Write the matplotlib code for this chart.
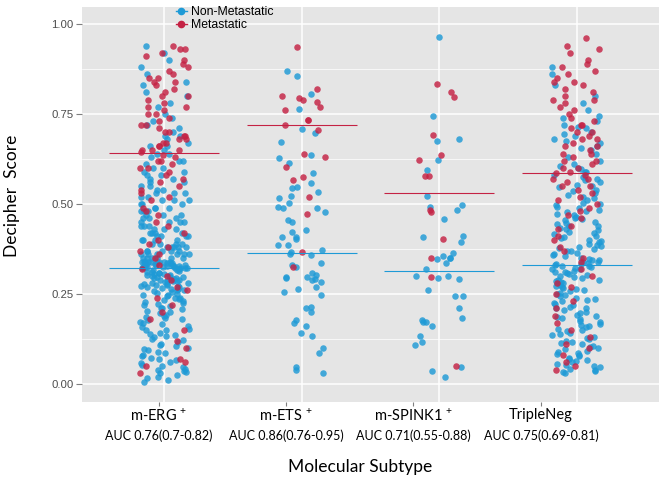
import numpy as np
import matplotlib
matplotlib.use('Agg')
import matplotlib.pyplot as plt
from matplotlib.lines import Line2D

plt.rcParams['mathtext.fontset'] = 'custom'
plt.rcParams['mathtext.rm'] = 'Lato'

subtypes = ['m-ERG', 'm-ETS', 'm-SPINK1', 'TripleNeg']
sup_marks = ['+', '+', '+', '']
auc_text = ['AUC 0.76(0.7-0.82)', 'AUC 0.86(0.76-0.95)',
            'AUC 0.71(0.55-0.88)', 'AUC 0.75(0.69-0.81)']

# median lines
met_median = [0.642, 0.718, 0.531, 0.587]
non_median = [0.321, 0.363, 0.314, 0.331]

# Decipher scores, read (roughly) off the jittered columns
erg_met = [0.94, 0.93, 0.93, 0.92, 0.91, 0.90, 0.89, 0.88, 0.87, 0.86, 0.85, 0.85,
           0.84, 0.84, 0.83, 0.82, 0.81, 0.80, 0.80, 0.79, 0.78, 0.77, 0.77, 0.76,
           0.75, 0.75, 0.74, 0.73, 0.72, 0.72, 0.71, 0.70, 0.70, 0.69, 0.69, 0.68,
           0.68, 0.67, 0.67, 0.66, 0.66, 0.65, 0.65, 0.65, 0.645,
           0.635, 0.63, 0.62, 0.62, 0.61, 0.60, 0.60, 0.59, 0.58, 0.57, 0.56, 0.55,
           0.54, 0.53, 0.52, 0.51, 0.49, 0.48, 0.47, 0.45, 0.44, 0.42, 0.40, 0.39,
           0.38, 0.37, 0.36, 0.35, 0.33, 0.32, 0.30, 0.29, 0.27, 0.26, 0.24, 0.22,
           0.20, 0.18, 0.15, 0.12, 0.10, 0.07, 0.06, 0.05, 0.03]
erg_non = [0.94, 0.92, 0.90, 0.88, 0.86, 0.84, 0.83, 0.81, 0.80, 0.78, 0.77, 0.75,
           0.74, 0.73, 0.72, 0.71, 0.70, 0.69, 0.69, 0.68, 0.67, 0.66, 0.66, 0.65,
           0.64, 0.64, 0.63, 0.62, 0.62, 0.61, 0.60, 0.60, 0.59, 0.59, 0.58, 0.58,
           0.57, 0.57, 0.56, 0.56, 0.55, 0.55, 0.54, 0.54, 0.53, 0.53, 0.53, 0.52,
           0.52, 0.51, 0.51, 0.51, 0.50, 0.50, 0.50, 0.49, 0.49, 0.49, 0.48, 0.48,
           0.48, 0.47, 0.47, 0.47, 0.46, 0.46, 0.46, 0.45, 0.45, 0.45, 0.45, 0.44,
           0.44, 0.44, 0.43, 0.43, 0.43, 0.42, 0.42, 0.42, 0.42, 0.41, 0.41, 0.41,
           0.41, 0.40, 0.40, 0.40, 0.40, 0.39, 0.39, 0.39, 0.39, 0.38, 0.38, 0.38,
           0.38, 0.38, 0.37, 0.37, 0.37, 0.37, 0.37, 0.36, 0.36, 0.36, 0.36, 0.36,
           0.36, 0.35, 0.35, 0.35, 0.35, 0.35, 0.35, 0.34, 0.34, 0.34, 0.34, 0.34,
           0.34, 0.34, 0.335, 0.333, 0.331, 0.336, 0.338, 0.332, 0.334, 0.339, 0.33,
           0.326, 0.324, 0.328, 0.321, 0.323, 0.327, 0.325, 0.322, 0.329, 0.324,
           0.326, 0.321, 0.328, 0.323,
           0.319, 0.317, 0.316, 0.313, 0.311, 0.31, 0.309, 0.306, 0.305, 0.303,
           0.301, 0.30, 0.298, 0.297, 0.295, 0.293, 0.29, 0.289, 0.287, 0.285,
           0.284, 0.281, 0.28, 0.278, 0.276, 0.274, 0.271, 0.27, 0.268, 0.265,
           0.263, 0.262, 0.26, 0.257, 0.255, 0.253, 0.25, 0.308, 0.302, 0.296,
           0.291, 0.286, 0.279, 0.273, 0.267,
           0.248, 0.246, 0.243, 0.24, 0.24, 0.237, 0.233, 0.231, 0.228, 0.224,
           0.221, 0.22, 0.216, 0.211, 0.21, 0.207, 0.203, 0.2, 0.196, 0.193, 0.19,
           0.185, 0.183, 0.18, 0.177, 0.171, 0.17, 0.166, 0.16, 0.157, 0.154, 0.15,
           0.149, 0.143, 0.14, 0.135, 0.132, 0.13, 0.124, 0.121, 0.118, 0.112,
           0.108, 0.105, 0.1, 0.097, 0.094, 0.09, 0.086, 0.08, 0.077, 0.072, 0.07,
           0.066, 0.06, 0.057, 0.052, 0.05, 0.046, 0.043, 0.04, 0.035, 0.032, 0.03,
           0.025, 0.02, 0.016, 0.01, 0.005]

ets_met = [0.937, 0.819, 0.80, 0.794, 0.79, 0.783, 0.769, 0.761, 0.733, 0.733,
           0.72, 0.706, 0.639, 0.631, 0.603, 0.575, 0.567, 0.52, 0.472, 0.367, 0.325]
ets_non = [0.870, 0.856, 0.806, 0.764, 0.707, 0.696, 0.673, 0.636, 0.629, 0.613,
           0.585, 0.559, 0.548, 0.544, 0.532, 0.523, 0.516, 0.502, 0.492, 0.488,
           0.488, 0.479, 0.455, 0.451, 0.428, 0.423, 0.409, 0.409, 0.402, 0.386,
           0.386, 0.372, 0.367, 0.361, 0.358, 0.335, 0.331, 0.326, 0.307, 0.303,
           0.298, 0.296, 0.293, 0.291, 0.289, 0.284, 0.270, 0.265, 0.256, 0.247,
           0.215, 0.210, 0.201, 0.178, 0.169, 0.160, 0.141, 0.132, 0.100, 0.085,
           0.048, 0.039, 0.030]

spink_met = [0.832, 0.812, 0.798, 0.691, 0.635, 0.622, 0.578, 0.578, 0.483,
             0.478, 0.403, 0.349, 0.298, 0.05]
spink_non = [0.965, 0.744, 0.68, 0.675, 0.622, 0.594, 0.522, 0.497, 0.491, 0.483,
             0.457, 0.412, 0.407, 0.395, 0.363, 0.355, 0.349, 0.349, 0.346, 0.335,
             0.318, 0.30, 0.300, 0.293, 0.291, 0.261, 0.245, 0.245, 0.210, 0.182,
             0.178, 0.173, 0.172, 0.160, 0.132, 0.118, 0.108, 0.048, 0.035, 0.020]

tn_met = [0.96, 0.94, 0.93, 0.92, 0.90, 0.89, 0.88, 0.87, 0.86, 0.85, 0.84, 0.84,
          0.83, 0.82, 0.81, 0.80, 0.79, 0.79, 0.78, 0.77, 0.76, 0.75, 0.74, 0.73,
          0.72, 0.72, 0.71, 0.70, 0.70, 0.69, 0.68, 0.68, 0.67, 0.66, 0.66, 0.65,
          0.64, 0.64, 0.63, 0.62, 0.62, 0.61, 0.60, 0.60, 0.59,
          0.585, 0.58, 0.57, 0.57, 0.56, 0.55, 0.55, 0.54, 0.53, 0.52, 0.51, 0.50,
          0.49, 0.48, 0.47, 0.46, 0.44, 0.43, 0.41, 0.40, 0.38, 0.37, 0.35, 0.34,
          0.32, 0.30, 0.28, 0.27, 0.25, 0.23, 0.21, 0.19, 0.17, 0.15, 0.13, 0.11,
          0.10, 0.08, 0.06, 0.05, 0.04]
tn_non = [0.88, 0.86, 0.83, 0.80, 0.78, 0.76, 0.745, 0.74, 0.73, 0.72, 0.715, 0.71,
          0.70, 0.695, 0.69, 0.68, 0.675, 0.67, 0.66, 0.655, 0.65, 0.64, 0.63,
          0.62, 0.61, 0.605, 0.60, 0.597, 0.59, 0.588, 0.58, 0.576, 0.57, 0.566,
          0.56, 0.553, 0.55, 0.547, 0.54, 0.536, 0.53, 0.524, 0.52, 0.517, 0.51,
          0.503, 0.50, 0.497, 0.491, 0.49, 0.484, 0.48, 0.478, 0.472, 0.47, 0.464,
          0.46, 0.458, 0.455, 0.45, 0.448, 0.445, 0.44, 0.438, 0.433, 0.43, 0.428,
          0.422, 0.42, 0.417, 0.41, 0.408, 0.405, 0.40, 0.398, 0.394, 0.39, 0.387,
          0.384, 0.38, 0.378, 0.375, 0.37, 0.368, 0.364, 0.36, 0.357, 0.355, 0.35,
          0.348, 0.345, 0.343, 0.34, 0.338, 0.335, 0.333, 0.332, 0.331,
          0.329, 0.327, 0.325, 0.322, 0.32, 0.318, 0.315, 0.312, 0.31, 0.307,
          0.305, 0.302, 0.30, 0.297, 0.294, 0.29, 0.288, 0.285, 0.282, 0.28, 0.276,
          0.273, 0.27, 0.266, 0.263, 0.26, 0.257, 0.254, 0.25, 0.246, 0.243, 0.24,
          0.236, 0.232, 0.23, 0.226, 0.222, 0.22, 0.215, 0.212, 0.21, 0.205, 0.2,
          0.197, 0.193, 0.19, 0.186, 0.183, 0.18, 0.175, 0.171, 0.168, 0.165, 0.16,
          0.157, 0.153, 0.15, 0.146, 0.142, 0.14, 0.135, 0.131, 0.128, 0.125, 0.12,
          0.117, 0.113, 0.11, 0.106, 0.103, 0.1, 0.097, 0.093, 0.09, 0.087, 0.083,
          0.08, 0.077, 0.073, 0.07, 0.066, 0.063, 0.06, 0.056, 0.053, 0.05, 0.046,
          0.043, 0.04, 0.036, 0.033, 0.03]

met_groups = [erg_met, ets_met, spink_met, tn_met]
non_groups = [erg_non, ets_non, spink_non, tn_non]

blue = '#1E9AD6'
red = '#C42244'
panel_bg = '#E5E5E5'

fig = plt.figure(figsize=(6.65, 4.87), dpi=100)
ax = fig.add_axes([82 / 665, 1 - 402 / 487, 577 / 665, 395 / 487])
ax.set_facecolor(panel_bg)
for s in ax.spines.values():
    s.set_visible(False)

xlim = (0.4, 4.6)
ax.set_xlim(*xlim)
ax.set_ylim(-0.05, 1.047)

# grid (ggplot style)
yticks = [0.0, 0.25, 0.5, 0.75, 1.0]
ax.set_yticks(yticks)
ax.set_yticks([0.125, 0.375, 0.625, 0.875], minor=True)
ax.yaxis.grid(True, which='major', color='white', lw=1.1)
ax.yaxis.grid(True, which='minor', color='white', lw=0.5)
positions = np.arange(1, len(subtypes) + 1)
for p in positions:
    ax.axvline(p, color='white', lw=1.1, zorder=0.5)
ax.set_axisbelow(True)

# jittered points (horizontal jitter only)
rng = np.random.default_rng(11)
for p, non, met in zip(positions, non_groups, met_groups):
    y_non = np.array(non)
    y_met = np.array(met)
    ax.scatter(p + rng.uniform(-0.18, 0.18, len(y_non)), y_non, s=22,
               color=blue, alpha=0.82, lw=0, zorder=2)
    ax.scatter(p + rng.uniform(-0.18, 0.18, len(y_met)), y_met, s=22,
               color=red, alpha=0.82, lw=0, zorder=2)

ax.hlines(met_median, positions - 0.4, positions + 0.4, color=red, lw=0.8, zorder=3)
ax.hlines(non_median, positions - 0.4, positions + 0.4, color=blue, lw=0.8, zorder=3)

ax.set_yticklabels(['0.00', '0.25', '0.50', '0.75', '1.00'],
                   fontfamily='Liberation Sans', fontsize=8.2, color='#4D4D4D')
ax.tick_params(axis='y', which='major', length=4, color='#7F7F7F', pad=2)
ax.tick_params(axis='y', which='minor', length=0)

# the category labels sit a bit left of the point columns in the original
label_frac = [0.1334, 0.3536, 0.5737, 0.7955]
ax.set_xticks([xlim[0] + f * (xlim[1] - xlim[0]) for f in label_frac])
ax.set_xticklabels([])
ax.tick_params(axis='x', length=3, color='#7F7F7F')

for f, name, sup, auc in zip(label_frac, subtypes, sup_marks, auc_text):
    txt = name + (r'$^{\,%s}$' % sup if sup else '')
    ax.text(f, -0.034, txt, transform=ax.transAxes, ha='center', va='center',
            fontfamily='Lato', fontsize=10.5, color='black')
    ax.text(f, -0.086, auc, transform=ax.transAxes, ha='center', va='center',
            fontfamily='Lato', fontsize=9, color='black')

fig.text(360 / 665, 1 - 467 / 487, 'Molecular Subtype', ha='center', va='center',
         fontfamily='Lato', fontsize=12.5)
fig.text(12 / 665, 1 - 196 / 487, 'Decipher  Score', ha='center', va='center',
         rotation=90, fontfamily='Lato', fontsize=12.5)

handles = [Line2D([], [], color=blue, marker='o', markersize=4.5, lw=1),
           Line2D([], [], color=red, marker='o', markersize=4.5, lw=1)]
fig.legend(handles, ['Non-Metastatic', 'Metastatic'], loc='upper left',
           bbox_to_anchor=(176 / 665, 1 - 6 / 487), frameon=False,
           prop={'family': 'Liberation Sans', 'size': 8.8},
           handlelength=0.9, handletextpad=0.35, labelspacing=0.1,
           borderpad=0, borderaxespad=0)

fig.savefig('out.png', dpi=100)
